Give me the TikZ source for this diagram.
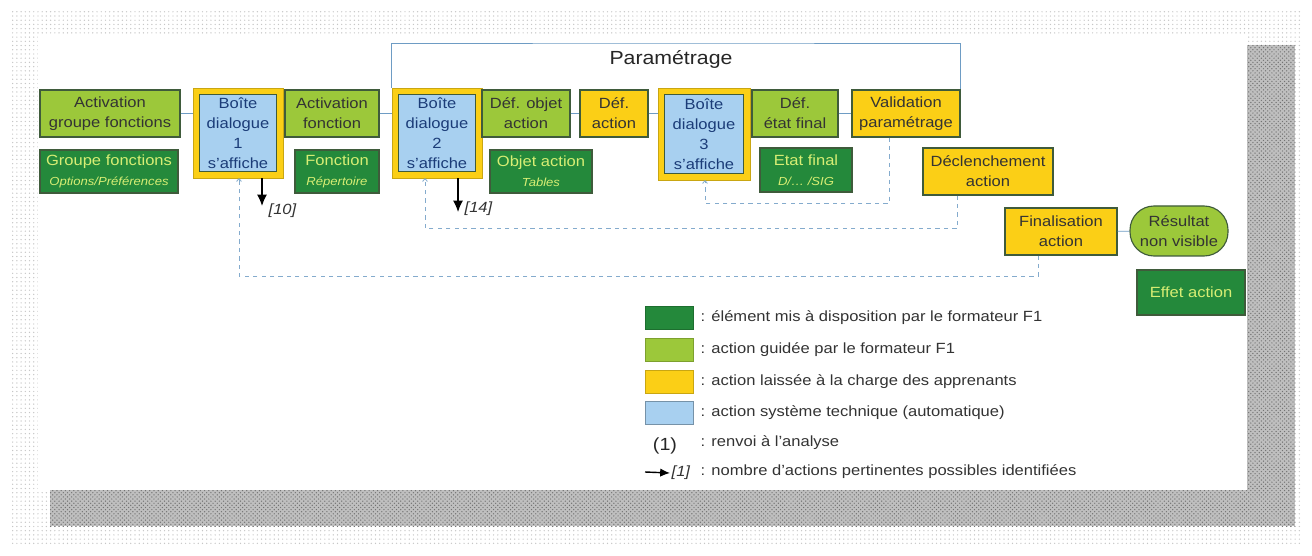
\documentclass[tikz,border=0pt]{standalone}
\usepackage{fontspec}
\setmainfont[FakeStretch=1.12]{Liberation Sans}
\usepackage{xcolor}
\usetikzlibrary{calc,positioning,patterns,arrows.meta}

\definecolor{lgreen}{HTML}{9CC83A}
\definecolor{dgreen}{HTML}{24893B}
\definecolor{ayellow}{HTML}{FBCF16}
\definecolor{sblue}{HTML}{A8D0F0}
\definecolor{lineblue}{HTML}{6E9CC4}
\definecolor{boxline}{HTML}{3F5B3B}
\definecolor{lighttext}{HTML}{D8EE74}
\definecolor{bluetext}{HTML}{1B3C78}

\newcommand\boxfont{\fontsize{10.5}{14.2}\selectfont}
\newcommand\subfont{\fontsize{8.3}{10}\selectfont\itshape}

\begin{document}
\begin{tikzpicture}[x=0.025cm, y=-0.025cm,
    link/.style = {lineblue, line width=0.6pt},
    back/.style = {lineblue!85, dashed, line width=0.6pt, -{To[length=2.5pt,width=4pt]}},
    count/.style = {black, line width=0.9pt, -{Latex[length=8pt,width=7pt]}}]
		\tikzset{size/.style 2 args={minimum width=#1*0.025cm,minimum height=#2*0.025cm},
			box/.style={draw=boxline,line width=0.8pt,rectangle,inner sep=0pt,align=center,text=black!80,font=\boxfont},
			guided/.style={box,fill=lgreen},
			given/.style={box,fill=dgreen,text=lighttext},
			learner/.style={box,fill=ayellow},
			boxframe/.style={draw=ayellow!80!black,line width=0.4pt,fill=ayellow,inner sep=0pt},
			system/.style={box,fill=sblue,text=bluetext},
			legsquare/.style={rectangle,size={48}{23},inner sep=0pt,line width=0.6pt},
			legtext/.style={anchor=west,inner sep=1pt,font=\boxfont,text=black!80}}

		% Background
		\useasboundingbox (0,0) rectangle (1312,556);
		\fill[white] (0,0) rectangle (1312,556);
		\fill[pattern=dots, pattern color=gray!45] (12,12) rectangle (1302,546);
		\fill[black!25] (50,45) rectangle (1295,526);
		\fill[pattern=crosshatch dots, pattern color=black!55] (50,45) rectangle (1295,526);
		\fill[white] (38,35) rectangle (1247,490);

		% Top row
		\node[guided, size={140}{47}] (act1) at (110,113.5) {Activation\\groupe fonctions};

		\node[boxframe, size={90}{90}] (b1f) at (238,133) {};
		\node[system, size={77}{77}] (b1) at (238,133) {Boîte\\dialogue\\1\\s’affiche};

		\node[guided, size={94}{47}] (act2) at (332,113.5) {Activation\\fonction};

		\node[boxframe, size={90}{90}] (b2f) at (437,133) {};
		\node[system, size={77}{77}] (b2) at (437,133) {Boîte\\dialogue\\2\\s’affiche};

		\node[guided, size={88}{47}] (defobj) at (526,113.5) {Déf. objet\\action};

		\node[learner, size={68}{47}] (defact) at (614,113.5) {Déf.\\action};

		\node[boxframe, size={92}{92}] (b3f) at (704,134) {};
		\node[system, size={79}{79}] (b3) at (704,134) {Boîte\\dialogue\\3\\s’affiche};

		\node[guided, size={86}{47}] (defetat) at (795,113.5) {Déf.\\état final};

		\node[learner, size={108}{47}] (valid) at (906,113.5) {Validation\\paramétrage};

		% Elements given
		\node[given, size={138}{43}] (grp) at (109,171.5) {Groupe fonctions\\{\subfont Options/Préférences}};

		\node[given, size={84}{43}] (fct) at (337,171.5) {Fonction\\{\subfont Répertoire}};

		\node[given, size={102}{43}] (objact) at (541,171.5) {Objet action\\{\subfont Tables}};

		\node[given, size={92}{44}] (etat) at (806,170) {Etat final\\{\subfont D/… /SIG}};

		% Launch
		\node[learner, size={130}{47}] (decl) at (988,171.5) {Déclenchement\\action};

		\node[learner, size={112}{47}] (final) at (1061,231.5) {Finalisation\\action};

		\node[guided, rounded corners=0.6cm, size={98}{50}] (result) at (1179,231) {Résultat\\non visible};

		\node[given, size={108}{45}] (effet) at (1191,292.5) {Effet action};

		% Parametrage
		\node[font=\fontsize{13.5}{16}\selectfont, text=black!85] (param) at (671,59) {Paramétrage};
		\coordinate (ptop) at (671,43);
		\draw [link] (b2f.north west) |- (ptop) -| (valid.north east);

		% Links
		\draw [link] (act1.east) -- (act1.east -| b1f.west);
		\draw [link] (act2.east) -- (act2.east -| b2f.west);
		\draw [link] (defobj) -- (defact);
		\draw [link] (defact.east) -- (defact.east -| b3f.west);
		\draw [link] (defetat) -- (valid);
		\draw [link] (final) -- (result);

		\draw [link] ($(act1.south west)!0.26!(act1.south east)$) -- ($(act1.south west)!0.26!(act1.south east)$ |- grp.north);
		\draw [link] ($(act2.south west)!0.39!(act2.south east)$) -- ($(act2.south west)!0.39!(act2.south east)$ |- fct.north);
		\draw [link] ($(defobj.south west)!0.41!(defobj.south east)$) -- ($(defobj.south west)!0.41!(defobj.south east)$ |- objact.north);
		\draw [link] ($(valid.south west)!0.77!(valid.south east)$) -- ($(valid.south west)!0.77!(valid.south east)$ |- decl.north);
		\draw [link] ($(decl.south west)!0.81!(decl.south east)$) -- ($(decl.south west)!0.81!(decl.south east)$ |- final.north);
		\draw [link] ($(result.south west)!0.34!(result.south east)$) -- ($(result.south west)!0.34!(result.south east)$ |- effet.north);

		% Back loops
		\coordinate (r3) at (705,203);
		\coordinate (r2) at (425,228);
		\coordinate (r1) at (239,276);
		\draw [back] ($(valid.south west)!0.35!(valid.south east)$) |- (r3) -- (r3 |- b3f.south);
		\draw [back] ($(decl.south west)!0.27!(decl.south east)$) |- (r2) -- (r2 |- b2f.south);
		\draw [back] ($(final.south west)!0.3!(final.south east)$) |- (r1) -- (r1 |- b1f.south);

		% Counts
		\coordinate (c10) at (262,206);
		\coordinate (c14) at (458,212);
		\draw [count] (c10 |- b1f.south) -- (c10);
		\draw [count] (c14 |- b2f.south) -- (c14);
		\node[anchor=west, inner sep=1pt, font=\boxfont\itshape, text=black!80] (n10) at (267,211) {[10]};
		\node[anchor=west, inner sep=1pt, font=\boxfont\itshape, text=black!80] (n14) at (463,209) {[14]};

		% Legend
		\node[legsquare, fill=dgreen, draw=dgreen!80!black] (l1) at (669,318) {};
		\node[legsquare, fill=lgreen, draw=lgreen!80!black] (l2) at (669,350) {};
		\node[legsquare, fill=ayellow, draw=ayellow!80!black] (l3) at (669,382) {};
		\node[legsquare, fill=sblue, draw=sblue!70!black] (l4) at (669,413) {};
		\node[legtext] (t1) at (699,318) {: élément mis à disposition par le formateur F1};
		\node[legtext] (t2) at (699,350) {: action guidée par le formateur F1};
		\node[legtext] (t3) at (699,382) {: action laissée à la charge des apprenants};
		\node[legtext] (t4) at (699,413) {: action système technique (automatique)};
		\node[font=\fontsize{12.5}{14}\selectfont, text=black!85] (l5) at (665,446) {(1)};
		\node[legtext] (t5) at (699,443) {: renvoi à l’analyse};
		\coordinate (l6) at (645,472);
		\node[anchor=west, inner sep=1pt, font=\boxfont\itshape, text=black!80] (n1) at (670,473) {[1]};
		\draw [count, line width=1pt, -{Latex[length=7pt,width=6pt]}] (l6) -- (n1.west);
		\node[legtext] (t6) at (699,472) {: nombre d’actions pertinentes possibles identifiées};

	\end{tikzpicture}
\end{document}
